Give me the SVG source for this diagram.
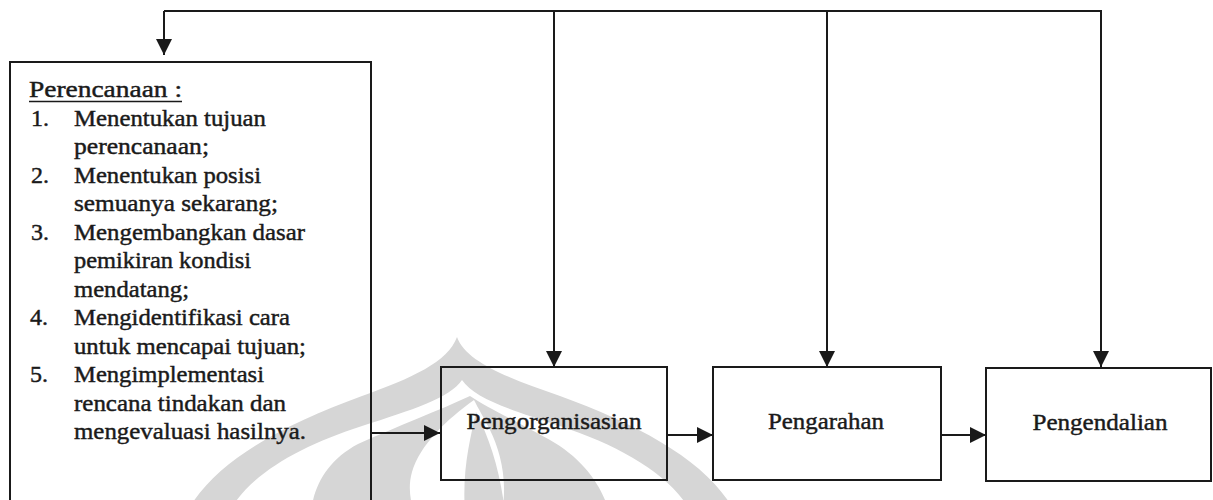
<svg xmlns="http://www.w3.org/2000/svg" width="1213" height="500" viewBox="0 0 1213 500">
  <defs>
    <style>
      .box { fill: none; stroke: #1a1a1a; stroke-width: 2; }
      .wire { fill: none; stroke: #1a1a1a; stroke-width: 2; }
      .txt { font-family: "Liberation Serif", "Times New Roman", serif; font-size: 24px; fill: #1a1a1a; stroke: #1a1a1a; stroke-width: 0.45; }
      .lbl { font-family: "Liberation Serif", "Times New Roman", serif; font-size: 24px; fill: #1a1a1a; stroke: #1a1a1a; stroke-width: 0.45; text-anchor: middle; }
      .wm { fill: #d6d6d6; }
      .wmgap { fill: #ffffff; }
    </style>
    <marker id="head" viewBox="0 0 16 16" refX="16" refY="8" markerWidth="16" markerHeight="16" markerUnits="userSpaceOnUse" orient="auto">
      <path d="M0,0 L16,8 L0,16 Z" fill="#1a1a1a"/>
    </marker>
  </defs>

  <rect width="1213" height="500" fill="#ffffff"/>

  <!-- faint emblem in the background -->
  <g id="emblem">
    <path class="wm" d="M457,337 C448,362 412,378 362,396 C280,426 214,462 187,512 L735,512 C708,462 642,426 560,396 C508,378 466,362 457,337 Z"/>
    <path class="wmgap" d="M462,380 C450,398 412,410 362,426 C300,446 250,474 229,512 L691,512 C670,474 620,446 560,426 C510,410 474,398 462,380 Z"/>
    <path class="wm" d="M470,396 C440,410 398,426 358,444 C328,460 314,485 311,512 L609,512 C602,485 582,458 550,440 C518,422 488,408 470,396 Z"/>
    <path class="wmgap" d="M474,400 C446,420 420,445 412,472 C408,486 410,500 414,512 L502,512 C508,480 500,450 490,430 C484,418 478,408 474,400 Z"/>
    <path class="wm" d="M476,412 C470,440 462,470 465,512 L505,512 C500,470 490,440 476,412 Z"/>
  </g>

  <!-- connectors -->
  <g id="connectors">
    <polyline class="wire" points="164,11 1101,11 1101,367" marker-end="url(#head)"/>
    <line class="wire" x1="164" y1="11" x2="164" y2="55" marker-end="url(#head)"/>
    <line class="wire" x1="554" y1="11" x2="554" y2="367" marker-end="url(#head)"/>
    <line class="wire" x1="827" y1="11" x2="827" y2="367" marker-end="url(#head)"/>
    <line class="wire" x1="371" y1="433" x2="440" y2="433" marker-end="url(#head)"/>
    <line class="wire" x1="667" y1="435" x2="713" y2="435" marker-end="url(#head)"/>
    <line class="wire" x1="941" y1="435" x2="986" y2="435" marker-end="url(#head)"/>
  </g>

  <!-- planning box -->
  <g id="perencanaan">
    <path class="box" d="M10,510 L10,62 L371,62 L371,510"/>
    <text class="txt" x="29" y="97" textLength="153" lengthAdjust="spacingAndGlyphs">Perencanaan :</text>
    <line x1="29" y1="101.5" x2="182" y2="101.5" stroke="#1a1a1a" stroke-width="1.6"/>
    <text class="txt" x="31" y="125.5">1.</text>
    <text class="txt" x="74" y="125.5" textLength="192" lengthAdjust="spacingAndGlyphs">Menentukan tujuan</text>
    <text class="txt" x="74" y="154" textLength="135" lengthAdjust="spacingAndGlyphs">perencanaan;</text>
    <text class="txt" x="31" y="182.5">2.</text>
    <text class="txt" x="74" y="182.5" textLength="187" lengthAdjust="spacingAndGlyphs">Menentukan posisi</text>
    <text class="txt" x="74" y="211" textLength="204" lengthAdjust="spacingAndGlyphs">semuanya sekarang;</text>
    <text class="txt" x="31" y="239.5">3.</text>
    <text class="txt" x="74" y="239.5" textLength="231" lengthAdjust="spacingAndGlyphs">Mengembangkan dasar</text>
    <text class="txt" x="74" y="268" textLength="177" lengthAdjust="spacingAndGlyphs">pemikiran kondisi</text>
    <text class="txt" x="74" y="296.5" textLength="115" lengthAdjust="spacingAndGlyphs">mendatang;</text>
    <text class="txt" x="30" y="325">4.</text>
    <text class="txt" x="74" y="325" textLength="216" lengthAdjust="spacingAndGlyphs">Mengidentifikasi cara</text>
    <text class="txt" x="74" y="353.5" textLength="232" lengthAdjust="spacingAndGlyphs">untuk mencapai tujuan;</text>
    <text class="txt" x="30" y="382">5.</text>
    <text class="txt" x="74" y="382" textLength="190" lengthAdjust="spacingAndGlyphs">Mengimplementasi</text>
    <text class="txt" x="74" y="410.5" textLength="212" lengthAdjust="spacingAndGlyphs">rencana tindakan dan</text>
    <text class="txt" x="74" y="439" textLength="232" lengthAdjust="spacingAndGlyphs">mengevaluasi hasilnya.</text>
  </g>

  <g id="pengorganisasian">
    <rect class="box" x="441" y="367" width="226" height="113"/>
    <text class="lbl" x="554" y="429" textLength="175" lengthAdjust="spacingAndGlyphs">Pengorganisasian</text>
  </g>

  <g id="pengarahan">
    <rect class="box" x="713" y="367" width="228" height="113"/>
    <text class="lbl" x="826" y="429" textLength="116" lengthAdjust="spacingAndGlyphs">Pengarahan</text>
  </g>

  <g id="pengendalian">
    <rect class="box" x="986" y="368" width="225" height="113"/>
    <text class="lbl" x="1100" y="430" textLength="135" lengthAdjust="spacingAndGlyphs">Pengendalian</text>
  </g>
</svg>
